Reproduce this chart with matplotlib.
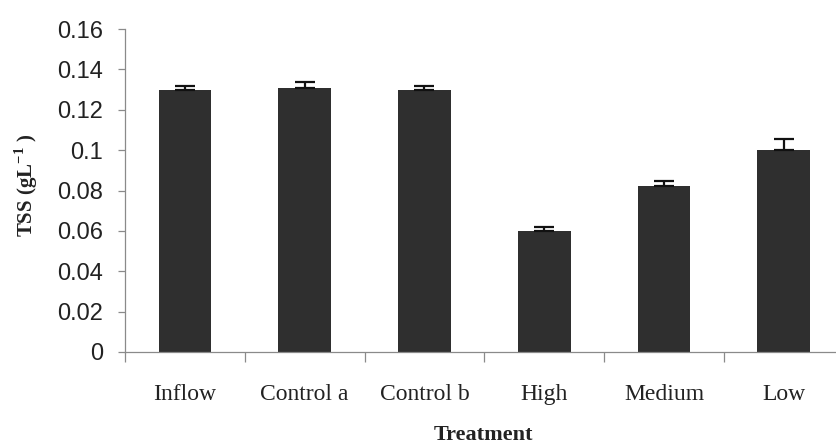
import numpy as np
import matplotlib
matplotlib.use("Agg")
import matplotlib.pyplot as plt

# data
treatments = ["Inflow", "Control a", "Control b", "High", "Medium", "Low"]
tss = [0.130, 0.131, 0.130, 0.060, 0.082, 0.100]
tss_err = [0.002, 0.0025, 0.002, 0.002, 0.0026, 0.0056]
yticks = [0, 0.02, 0.04, 0.06, 0.08, 0.1, 0.12, 0.14, 0.16]
ytick_labels = ["0", "0.02", "0.04", "0.06", "0.08", "0.1", "0.12", "0.14", "0.16"]

plt.rcParams["mathtext.fontset"] = "custom"
plt.rcParams["mathtext.rm"] = "Liberation Serif"
plt.rcParams["mathtext.bf"] = "Liberation Serif:bold"

fig = plt.figure(figsize=(8.36, 4.46), dpi=100)
ax = fig.add_axes([125 / 836, 94 / 446, 718.6 / 836, 323 / 446])

x = np.arange(len(treatments))
ax.bar(x, tss, width=0.44, color="#2f2f2f", zorder=2)
ax.errorbar(x, tss, yerr=[np.zeros(len(tss)), tss_err], fmt="none",
            ecolor="#111111", elinewidth=1.6, capsize=7, capthick=1.6, zorder=3)

ax.set_xlim(-0.5, len(treatments) - 0.5)
ax.set_ylim(0, 0.16)

for s in ["top", "right"]:
    ax.spines[s].set_visible(False)
for s in ["left", "bottom"]:
    ax.spines[s].set_color("#8a8a8a")
    ax.spines[s].set_linewidth(0.9)

ax.set_yticks(yticks)
ax.set_yticklabels(ytick_labels, family="Liberation Sans", fontsize=17, color="#222222")
ax.tick_params(axis="y", length=5, width=0.9, color="#8a8a8a", pad=11)

ax.set_xticks(x)
ax.set_xticklabels(treatments, family="Liberation Serif", fontsize=17, color="#222222")
ax.tick_params(axis="x", which="major", length=0, pad=23)
ax.set_xticks(np.arange(-0.5, len(treatments)), minor=True)
ax.tick_params(axis="x", which="minor", length=7, width=0.9, color="#8a8a8a")

fig.text(26 / 836, 1 - 185 / 446, r"TSS (gL$^{\mathbf{-1}}$ )", rotation=90,
         ha="center", va="center", family="Liberation Serif", fontweight="bold",
         fontsize=15, color="#222222")
fig.text(483 / 836, 1 - 435 / 446, "Treatment", ha="center", va="center",
         family="Liberation Serif", fontweight="bold", fontsize=16, color="#222222")

fig.savefig("out.png", dpi=100)
